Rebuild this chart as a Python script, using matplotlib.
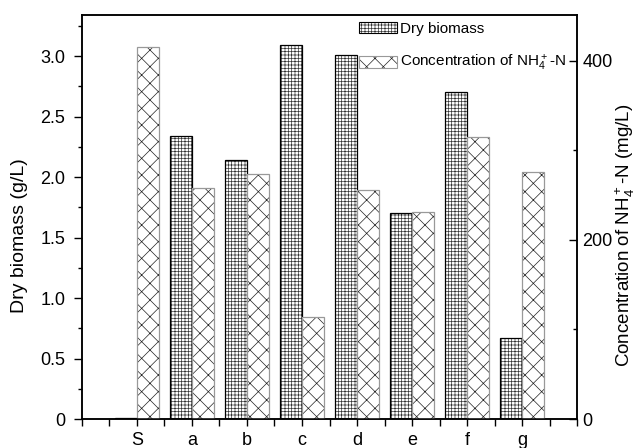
import matplotlib.pyplot as plt
from matplotlib.patches import Patch
from matplotlib.legend_handler import HandlerTuple
import numpy as np

plt.rcParams['font.family'] = ['Liberation Sans', 'DejaVu Sans']
plt.rcParams['mathtext.default'] = 'regular'
plt.rcParams['hatch.linewidth'] = 0.5

samples = ['S', 'a', 'b', 'c', 'd', 'e', 'f', 'g']
biomass = [0.01, 2.34, 2.14, 3.09, 3.01, 1.70, 2.70, 0.67]      # g/L
nh4n = [415, 258, 274, 114, 256, 231, 315, 276]                  # mg/L

x = np.arange(len(samples))
w = 0.4

fig = plt.figure(figsize=(6.39, 4.48), dpi=100)
ax = fig.add_axes([0.1283, 0.0647, 0.7747, 0.9018])
ax2 = ax.twinx()

# hatch lines follow the edge colour, so outlines are drawn as a second layer
ax.bar(x - w / 2, biomass, w, facecolor='white', edgecolor='#333333',
       hatch='+++++', linewidth=0)
ax.bar(x - w / 2, biomass, w, fill=False, edgecolor='black', linewidth=0.9)
ax2.bar(x + w / 2, nh4n, w, facecolor='white', edgecolor='#222222',
        hatch='xx', linewidth=0)
ax2.bar(x + w / 2, nh4n, w, fill=False, edgecolor='#999999', linewidth=0.9)

ax.set_xlim(-1, 8)
ax.set_ylim(0, 3.34)
ax2.set_ylim(0, 451)

ax.set_xticks(x)
ax.set_xticklabels(samples)
ax.set_xticks(np.arange(-1, 8.01, 0.5), minor=True)
ax.set_yticks([0, 0.5, 1.0, 1.5, 2.0, 2.5, 3.0])
ax.set_yticklabels(['0', '0.5', '1.0', '1.5', '2.0', '2.5', '3.0'])
ax.set_yticks(np.arange(0.25, 3.3, 0.5), minor=True)
ax2.set_yticks([0, 200, 400])
ax2.set_yticks([100, 300], minor=True)

for a in (ax, ax2):
    for s in a.spines.values():
        s.set_linewidth(1.1)
ax.tick_params(axis='y', which='major', direction='out', length=6, width=1,
               labelsize=13, pad=6)
ax.tick_params(axis='y', which='minor', direction='out', length=3, width=1)
ax.tick_params(axis='x', which='both', direction='out', length=5, width=1,
               labelsize=13, pad=4)
ax2.tick_params(axis='y', which='major', direction='in', length=5.5, width=1,
                labelsize=13, pad=4)
ax2.tick_params(axis='y', which='minor', direction='in', length=3, width=1)

ax.set_ylabel('Dry biomass (g/L)', fontsize=14, labelpad=9, y=0.455)
ax2.set_ylabel('Concentration of NH$_4^+$-N (mg/L)', fontsize=13.5,
               labelpad=0.5, y=0.455)

h_bio = (Patch(facecolor='white', edgecolor='#333333', hatch='+++++', linewidth=0),
         Patch(fill=False, edgecolor='black', linewidth=0.8))
h_nh4 = (Patch(facecolor='white', edgecolor='#222222', hatch='xx', linewidth=0),
         Patch(fill=False, edgecolor='#999999', linewidth=0.8))
ax2.legend([h_bio, h_nh4], ['Dry biomass', 'Concentration of NH$_4^+$-N'],
           handler_map={tuple: HandlerTuple(ndivide=1, pad=0)},
           loc='upper left', bbox_to_anchor=(0.537, 1.01), frameon=False,
           fontsize=11, handlelength=2.5, handleheight=0.8,
           handletextpad=0.2, labelspacing=1.15, borderpad=0.2)

fig.savefig('out.png', dpi=100)
